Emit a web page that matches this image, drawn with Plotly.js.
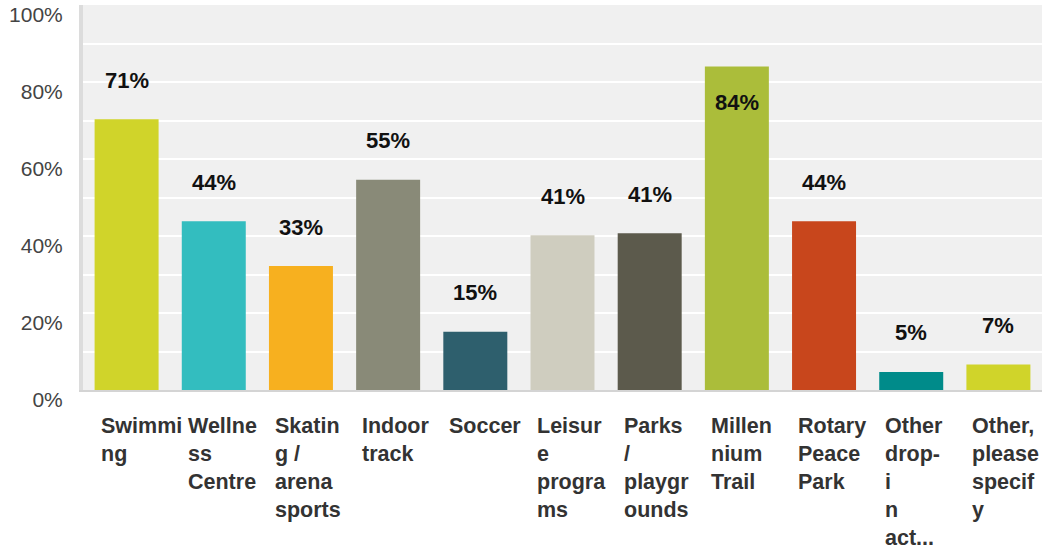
<!DOCTYPE html>
<html>
<head>
<meta charset="utf-8">
<script src="https://cdn.plot.ly/plotly-3.0.1.min.js"></script>
<style>
  html, body { margin: 0; padding: 0; background: #ffffff; }
  #chart { width: 1045px; height: 548px; }
</style>
</head>
<body>
<div id="chart"></div>
<script>
// Categories (full names) and wrapped tick labels as shown
const categories = [
  "Swimming", "Wellness Centre", "Skating / arena sports", "Indoor track", "Soccer",
  "Leisure programs", "Parks / playgrounds", "Millennium Trail", "Rotary Peace Park",
  "Other drop-in act...", "Other, please specify"
];
const tickLabels = [
  "Swimmi<br>ng", "Wellne<br>ss<br>Centre", "Skatin<br>g /<br>arena<br>sports", "Indoor<br>track", "Soccer",
  "Leisur<br>e<br>progra<br>ms", "Parks<br>/<br>playgr<br>ounds", "Millen<br>nium<br>Trail", "Rotary<br>Peace<br>Park",
  "Other<br>drop-<br>i<br>n<br>act...", "Other,<br>please<br>specif<br>y"
];
// Bar heights (fraction of respondents)
const values = [0.703, 0.438, 0.322, 0.546, 0.151, 0.402, 0.407, 0.840, 0.438, 0.047, 0.066];
// Value labels as printed above the bars
const valueLabels = ["71%", "44%", "33%", "55%", "15%", "41%", "41%", "84%", "44%", "5%", "7%"];
const barColors = [
  "#d0d42a", "#33bdbf", "#f7b01f", "#898a78", "#2e5f6d",
  "#cfcdbf", "#5c5a4c", "#abbd3a", "#c8461c", "#008b8a", "#d0d42a"
];
const yTickVals = [0, 0.2, 0.4, 0.6, 0.8, 1.0];
const yTickText = ["0%", "20%", "40%", "60%", "80%", "100%"];

const trace = {
  type: "bar",
  x: categories,
  y: values,
  marker: { color: barColors, line: { width: 0 } },
  hoverinfo: "none"
};

const annotations = [];
// value labels
categories.forEach((c, i) => {
  const inside = values[i] > 0.8;
  annotations.push({
    x: c, y: values[i], xref: "x", yref: "y",
    text: "<b>" + valueLabels[i] + "</b>",
    showarrow: false,
    xanchor: "center", yanchor: "middle",
    yshift: inside ? -36 : 39,
    font: { family: "Liberation Sans, Arial, sans-serif", size: 22, color: "#111111" }
  });
});
// category labels, left aligned under the bars
categories.forEach((c, i) => {
  annotations.push({
    x: c, y: 0, xref: "x", yref: "paper",
    text: "<b>" + tickLabels[i] + "</b>",
    showarrow: false,
    xanchor: "left", yanchor: "top", align: "left",
    xshift: -28, yshift: -22,
    font: { family: "Liberation Sans, Arial, sans-serif", size: 21.5, color: "#333333" }
  });
});

const layout = {
  width: 1045, height: 548,
  margin: { l: 83, r: 3, t: 5, b: 158 },
  paper_bgcolor: "#ffffff",
  plot_bgcolor: "#f0f0f0",
  bargap: 0.266,
  showlegend: false,
  xaxis: {
    type: "category",
    showticklabels: false,
    showgrid: false,
    zeroline: false,
    showline: true, linecolor: "#d4d4d4", linewidth: 2,
    ticks: ""
  },
  yaxis: {
    range: [0, 1],
    tickvals: yTickVals,
    ticktext: yTickText,
    showgrid: true, gridcolor: "#ffffff", gridwidth: 2,
    minor: { dtick: 0.1, showgrid: true, gridcolor: "#ffffff", gridwidth: 2 },
    zeroline: false,
    showline: true, linecolor: "#dcdcdc", linewidth: 4,
    ticks: "",
    ticklabelstandoff: 12,
    ticklabelshift: 10,
    tickfont: { family: "Liberation Sans, Arial, sans-serif", size: 21, color: "#444444" },
    fixedrange: true
  },
  annotations: annotations
};

Plotly.newPlot("chart", [trace], layout, { displayModeBar: false, staticPlot: true });
</script>
</body>
</html>
